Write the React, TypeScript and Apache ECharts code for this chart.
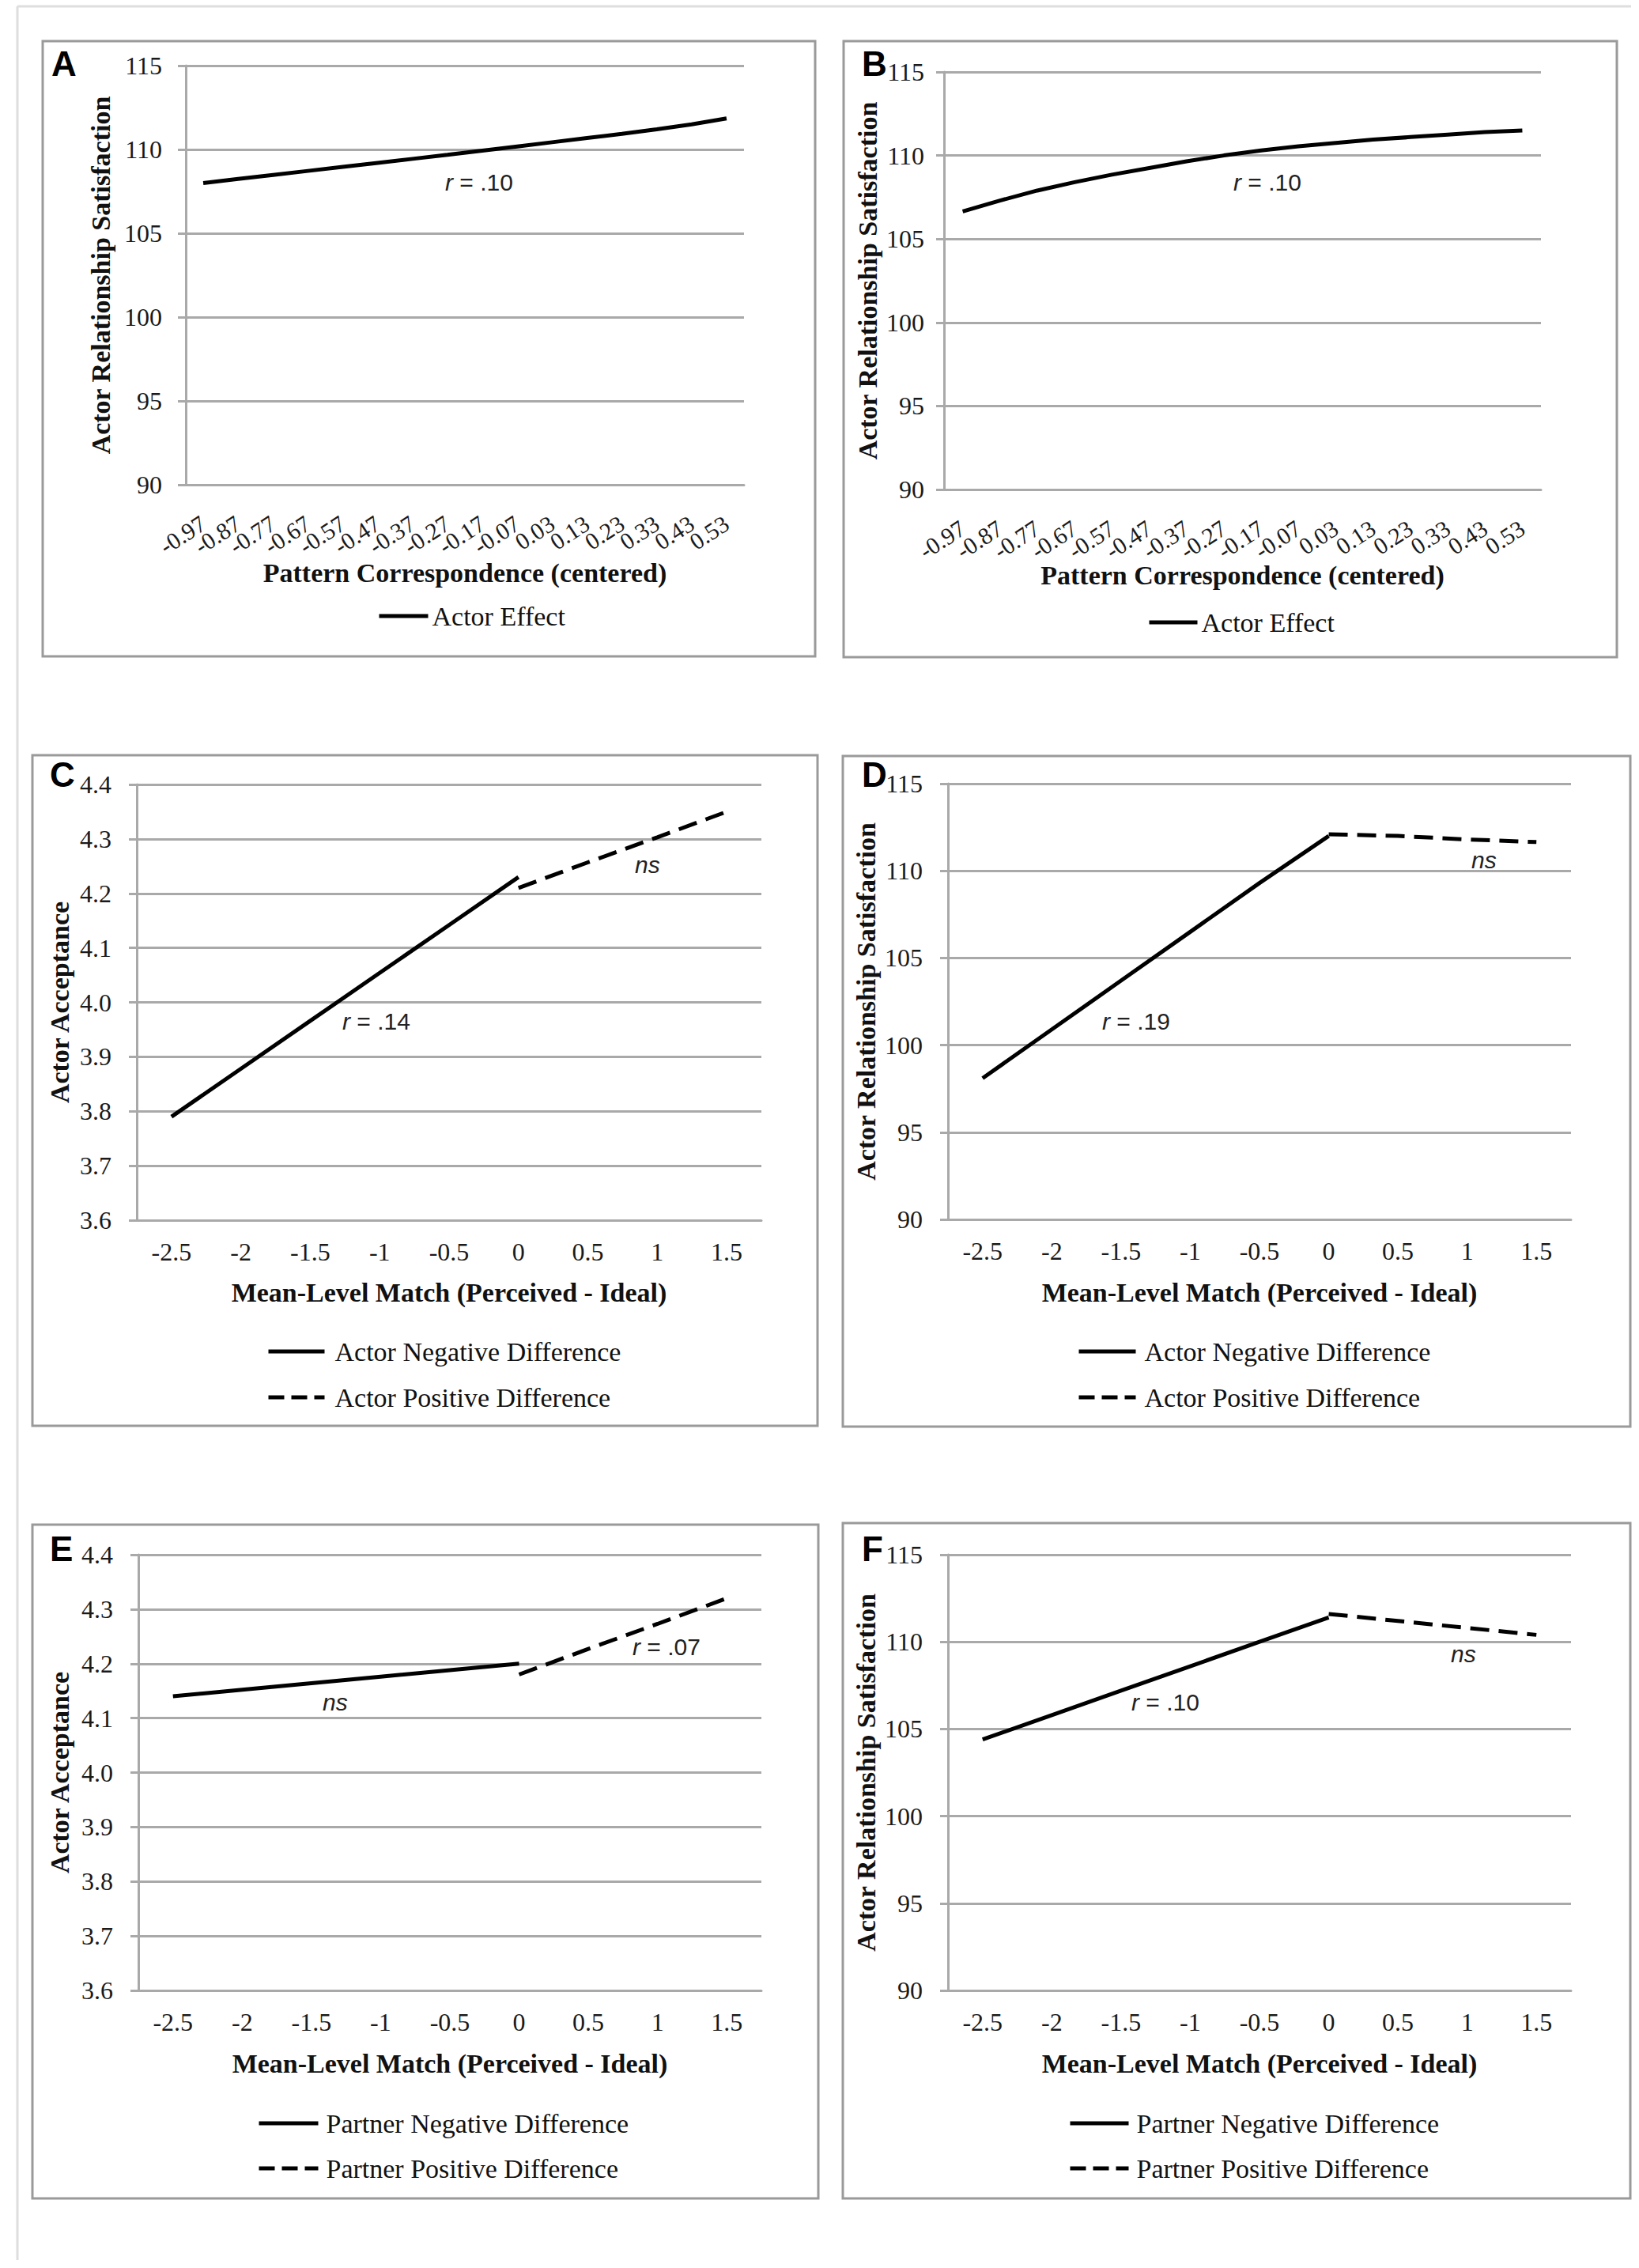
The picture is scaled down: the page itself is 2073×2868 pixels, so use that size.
import React, { useEffect, useRef } from "react";
import * as echarts from "echarts";

// ---------- data ----------
const patternCats = ["-0.97", "-0.87", "-0.77", "-0.67", "-0.57", "-0.47", "-0.37", "-0.27", "-0.17", "-0.07", "0.03", "0.13", "0.23", "0.33", "0.43", "0.53"];
const matchCats = ["-2.5", "-2", "-1.5", "-1", "-0.5", "0", "0.5", "1", "1.5"];

const aActorEffect = [108.0, 108.24, 108.48, 108.72, 108.96, 109.2, 109.44, 109.68, 109.93, 110.18, 110.43, 110.68, 110.93, 111.2, 111.5, 111.85];
const bActorEffect = [106.65, 107.3, 107.9, 108.4, 108.85, 109.25, 109.65, 110.0, 110.3, 110.55, 110.75, 110.95, 111.1, 111.25, 111.4, 111.5];

const cNegative = [3.79, 3.878, 3.966, 4.054, 4.142, 4.23, null, null, null];
const cPositive = [null, null, null, null, null, 4.21, 4.257, 4.303, 4.35];
const dNegative = [98.1, 100.9, 103.7, 106.5, 109.3, 112.0, null, null, null];
const dPositive = [null, null, null, null, null, 112.1, 112.0, 111.8, 111.65];
const eNegative = [4.14, 4.152, 4.164, 4.176, 4.188, 4.2, null, null, null];
const ePositive = [null, null, null, null, null, 4.18, 4.227, 4.273, 4.32];
const fNegative = [104.4, 105.8, 107.2, 108.6, 110.0, 111.4, null, null, null];
const fPositive = [null, null, null, null, null, 111.6, 111.2, 110.8, 110.4];

const satisfactionAxis = { min: 90, max: 115, interval: 5 };
const acceptanceAxis = { min: 3.6, max: 4.4, interval: 0.1 };

const SERIF = "'Liberation Serif', 'Times New Roman', serif";
const SANS = "'Liberation Sans', Arial, sans-serif";
const GRID_GRAY = "#a9a9a9";
const BOX_GRAY = "#9a9a9a";

type SeriesDef = { name: string; data: (number | null)[]; dashed: boolean; legendY: number };
type Note = { text: string; x: number; y: number; italicAll?: boolean };
type Panel = {
  letter: string;
  grid: { left: number; top: number; width: number; height: number };
  box: [number, number, number, number];
  letterPos: [number, number];
  cats: string[];
  yAxis: { min: number; max: number; interval: number };
  decimals: number;
  yName: string;
  yNameGap: number;
  yLabelMargin: number;
  xName: string;
  xNameGap: number;
  xRotate: number;
  xLabelSize: number;
  xLabelMargin: number;
  legendLeft: number;
  legendWidth: number;
  legendPad: number;
  series: SeriesDef[];
  notes: Note[];
};

const panels: Panel[] = [
  {
    letter: "A",
    grid: { left: 235, top: 83, width: 706, height: 530 },
    box: [54, 52, 977, 778],
    letterPos: [65, 80],
    cats: patternCats,
    yAxis: satisfactionAxis,
    decimals: 0,
    yName: "Actor Relationship Satisfaction",
    yNameGap: 91,
    yLabelMargin: 30,
    xName: "Pattern Correspondence (centered)",
    xNameGap: 94,
    xRotate: 33,
    xLabelSize: 30,
    xLabelMargin: 46,
    legendLeft: 477,
    legendWidth: 62,
    legendPad: 0,
    series: [{ name: "Actor Effect", data: aActorEffect, dashed: false, legendY: 779 }],
    notes: [{ text: "{i|r} = .10", x: 563, y: 230 }],
  },
  {
    letter: "B",
    grid: { left: 1194, top: 91, width: 755, height: 528 },
    box: [1067, 52, 978, 779],
    letterPos: [1090, 80],
    cats: patternCats,
    yAxis: satisfactionAxis,
    decimals: 0,
    yName: "Actor Relationship Satisfaction",
    yNameGap: 80,
    yLabelMargin: 25,
    xName: "Pattern Correspondence (centered)",
    xNameGap: 91,
    xRotate: 33,
    xLabelSize: 30,
    xLabelMargin: 46,
    legendLeft: 1451,
    legendWidth: 61,
    legendPad: 0,
    series: [{ name: "Actor Effect", data: bActorEffect, dashed: false, legendY: 787 }],
    notes: [{ text: "{i|r} = .10", x: 1560, y: 230 }],
  },
  {
    letter: "C",
    grid: { left: 173, top: 992, width: 790, height: 551 },
    box: [41, 955, 993, 848],
    letterPos: [63, 979],
    cats: matchCats,
    yAxis: acceptanceAxis,
    decimals: 1,
    yName: "Actor Acceptance",
    yNameGap: 81,
    yLabelMargin: 32,
    xName: "Mean-Level Match (Perceived - Ideal)",
    xNameGap: 74,
    xRotate: 0,
    xLabelSize: 32,
    xLabelMargin: 24,
    legendLeft: 337,
    legendWidth: 71,
    legendPad: 8,
    series: [
      { name: "Actor Negative Difference", data: cNegative, dashed: false, legendY: 1709 },
      { name: "Actor Positive Difference", data: cPositive, dashed: true, legendY: 1767 },
    ],
    notes: [
      { text: "{i|r} = .14", x: 433, y: 1291 },
      { text: "ns", x: 803, y: 1093, italicAll: true },
    ],
  },
  {
    letter: "D",
    grid: { left: 1199, top: 991, width: 788, height: 551 },
    box: [1066, 956, 996, 848],
    letterPos: [1090, 979],
    cats: matchCats,
    yAxis: satisfactionAxis,
    decimals: 0,
    yName: "Actor Relationship Satisfaction",
    yNameGap: 87,
    yLabelMargin: 32,
    xName: "Mean-Level Match (Perceived - Ideal)",
    xNameGap: 75,
    xRotate: 0,
    xLabelSize: 32,
    xLabelMargin: 24,
    legendLeft: 1362,
    legendWidth: 72,
    legendPad: 6,
    series: [
      { name: "Actor Negative Difference", data: dNegative, dashed: false, legendY: 1709 },
      { name: "Actor Positive Difference", data: dPositive, dashed: true, legendY: 1767 },
    ],
    notes: [
      { text: "{i|r} = .19", x: 1394, y: 1291 },
      { text: "ns", x: 1861, y: 1087, italicAll: true },
    ],
  },
  {
    letter: "E",
    grid: { left: 175, top: 1966, width: 788, height: 551 },
    box: [41, 1928, 994, 852],
    letterPos: [63, 1958],
    cats: matchCats,
    yAxis: acceptanceAxis,
    decimals: 1,
    yName: "Actor Acceptance",
    yNameGap: 83,
    yLabelMargin: 32,
    xName: "Mean-Level Match (Perceived - Ideal)",
    xNameGap: 75,
    xRotate: 0,
    xLabelSize: 32,
    xLabelMargin: 24,
    legendLeft: 325,
    legendWidth: 75,
    legendPad: 5,
    series: [
      { name: "Partner Negative Difference", data: eNegative, dashed: false, legendY: 2685 },
      { name: "Partner Positive Difference", data: ePositive, dashed: true, legendY: 2742 },
    ],
    notes: [
      { text: "ns", x: 408, y: 2152, italicAll: true },
      { text: "{i|r} = .07", x: 800, y: 2082 },
    ],
  },
  {
    letter: "F",
    grid: { left: 1199, top: 1966, width: 788, height: 551 },
    box: [1066, 1926, 996, 854],
    letterPos: [1090, 1958],
    cats: matchCats,
    yAxis: satisfactionAxis,
    decimals: 0,
    yName: "Actor Relationship Satisfaction",
    yNameGap: 87,
    yLabelMargin: 32,
    xName: "Mean-Level Match (Perceived - Ideal)",
    xNameGap: 75,
    xRotate: 0,
    xLabelSize: 32,
    xLabelMargin: 24,
    legendLeft: 1351,
    legendWidth: 74,
    legendPad: 5,
    series: [
      { name: "Partner Negative Difference", data: fNegative, dashed: false, legendY: 2685 },
      { name: "Partner Positive Difference", data: fPositive, dashed: true, legendY: 2742 },
    ],
    notes: [
      { text: "{i|r} = .10", x: 1431, y: 2152 },
      { text: "ns", x: 1835, y: 2091, italicAll: true },
    ],
  },
];

function buildOption() {
  const grids: any[] = [];
  const xAxes: any[] = [];
  const yAxes: any[] = [];
  const series: any[] = [];
  const legends: any[] = [];
  const graphics: any[] = [];

  // outer light frame
  graphics.push({ type: "line", silent: true, shape: { x1: 22, y1: 8, x2: 2063, y2: 8 }, style: { stroke: "#dedede", lineWidth: 3 } });
  graphics.push({ type: "line", silent: true, shape: { x1: 22, y1: 8, x2: 22, y2: 2858 }, style: { stroke: "#dedede", lineWidth: 3 } });

  panels.forEach((p, i) => {
    grids.push({ ...p.grid, containLabel: false, outerBoundsMode: "none" });
    xAxes.push({
      type: "category",
      gridIndex: i,
      data: p.cats,
      boundaryGap: true,
      axisLine: { show: true, lineStyle: { color: GRID_GRAY, width: 3 } },
      axisTick: { show: false },
      splitLine: { show: false },
      axisLabel: {
        interval: 0,
        rotate: p.xRotate,
        fontFamily: SERIF,
        fontSize: p.xLabelSize,
        color: "#1a1a1a",
        margin: p.xLabelMargin,
        hideOverlap: false,
      },
      name: p.xName,
      nameLocation: "middle",
      nameGap: p.xNameGap,
      nameMoveOverlap: false,
      nameTextStyle: { fontFamily: SERIF, fontWeight: "bold", fontSize: 34, color: "#111" },
    });
    yAxes.push({
      type: "value",
      gridIndex: i,
      min: p.yAxis.min,
      max: p.yAxis.max,
      interval: p.yAxis.interval,
      axisLine: { show: true, lineStyle: { color: GRID_GRAY, width: 3 } },
      axisTick: { show: true, length: 10, lineStyle: { color: GRID_GRAY, width: 3 } },
      splitLine: { show: true, lineStyle: { color: GRID_GRAY, width: 3 } },
      axisLabel: {
        fontFamily: SERIF,
        fontSize: 32,
        color: "#1a1a1a",
        margin: p.yLabelMargin,
        formatter: (v: number) => v.toFixed(p.decimals),
      },
      name: p.yName,
      nameLocation: "middle",
      nameGap: p.yNameGap,
      nameMoveOverlap: false,
      nameTextStyle: { fontFamily: SERIF, fontWeight: "bold", fontSize: 34, color: "#111" },
    });

    p.series.forEach((s) => {
      series.push({
        type: "line",
        name: s.name,
        xAxisIndex: i,
        yAxisIndex: i,
        data: s.data,
        symbol: "none",
        connectNulls: false,
        silent: true,
        lineStyle: { color: "#000", width: 5, type: s.dashed ? [24, 12] : "solid", cap: "butt" },
        itemStyle: { color: "#000" },
      });
      legends.push({
        data: [s.name],
        left: p.legendLeft,
        top: s.legendY - 17,
        padding: 0,
        itemWidth: p.legendWidth,
        itemHeight: 2,
        selectedMode: false,
        itemStyle: { opacity: 0 },
        lineStyle: { width: 5, color: "#000", type: s.dashed ? [20, 9] : "solid" },
        textStyle: {
          fontFamily: SERIF,
          fontSize: 34,
          color: "#111",
          lineHeight: 34,
          padding: [0, 0, 0, p.legendPad],
        },
      });
    });

    // panel frame
    graphics.push({
      type: "rect",
      silent: true,
      shape: { x: p.box[0], y: p.box[1], width: p.box[2], height: p.box[3] },
      style: { fill: "none", stroke: BOX_GRAY, lineWidth: 3 },
    });
    // panel letter
    graphics.push({
      type: "text",
      silent: true,
      x: p.letterPos[0],
      y: p.letterPos[1],
      style: {
        text: p.letter,
        fontFamily: SANS,
        fontWeight: "bold",
        fontSize: 44,
        fill: "#000",
        align: "left",
        verticalAlign: "middle",
      },
    });
    // annotations
    p.notes.forEach((n) => {
      graphics.push({
        type: "text",
        silent: true,
        x: n.x,
        y: n.y,
        style: {
          text: n.text,
          fontFamily: SANS,
          fontSize: 30,
          fontStyle: n.italicAll ? "italic" : "normal",
          fill: "#222",
          align: "left",
          verticalAlign: "middle",
          rich: { i: { fontFamily: SANS, fontSize: 30, fontStyle: "italic", fill: "#222" } },
        },
      });
    });
  });

  return {
    animation: false,
    backgroundColor: "#ffffff",
    grid: grids,
    xAxis: xAxes,
    yAxis: yAxes,
    series,
    legend: legends,
    graphic: graphics,
  };
}

export default function App() {
  const ref = useRef<HTMLDivElement>(null);
  useEffect(() => {
    if (!ref.current) return;
    const chart = echarts.init(ref.current, undefined, { renderer: "svg" });
    chart.setOption(buildOption() as any);
    return () => chart.dispose();
  }, []);
  return (
    <div
      ref={ref}
      style={{ position: "absolute", left: 0, top: 0, width: 2073, height: 2868, background: "#fff" }}
    />
  );
}
